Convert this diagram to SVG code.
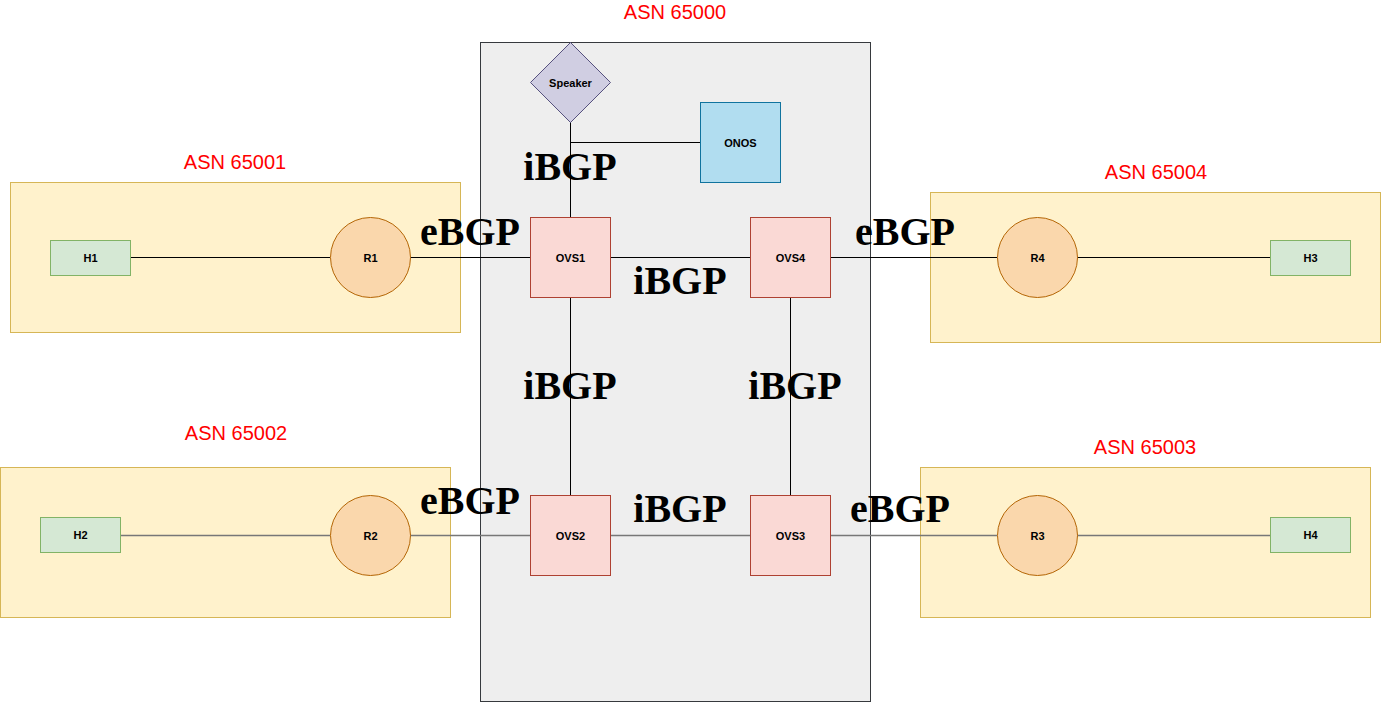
<svg xmlns="http://www.w3.org/2000/svg" width="1381" height="703" viewBox="0 0 1381 703">
<style>
.asn{fill:#fff2cc;stroke:#d6b656;stroke-width:1}
.asnl{font-family:"Liberation Sans",Arial,sans-serif;font-size:20px;fill:#ff0000;text-anchor:middle}
.host{fill:#d5e8d4;stroke:#82b366;stroke-width:1}
.rtr{fill:#fad7ac;stroke:#b46504;stroke-width:1}
.ovs{fill:#fad9d5;stroke:#ae4132;stroke-width:1}
.t{font-family:"Liberation Sans",Arial,sans-serif;font-size:11px;font-weight:bold;fill:#000;text-anchor:middle;dominant-baseline:central}
.bgp{font-family:"Liberation Serif","Times New Roman",serif;font-size:40px;font-weight:bold;fill:#000;text-anchor:middle}
.c1{stroke:#000;stroke-width:1;fill:none}
.c2{stroke:#777;stroke-width:1.3;fill:none}
</style>
<g id="asn65000">
<rect x="480.5" y="42.5" width="390" height="659" fill="#eeeeee" stroke="#36393d" stroke-width="1"/>
<text class="asnl" x="675" y="19">ASN 65000</text>
</g>
<g id="asn65001">
<rect class="asn" x="10.5" y="182.5" width="450" height="150"/>
<text class="asnl" x="235" y="169">ASN 65001</text>
</g>
<g id="asn65002">
<rect class="asn" x="0.5" y="467.5" width="450" height="150"/>
<text class="asnl" x="236" y="440">ASN 65002</text>
</g>
<g id="asn65003">
<rect class="asn" x="920.5" y="467.5" width="450" height="150"/>
<text class="asnl" x="1145" y="454">ASN 65003</text>
</g>
<g id="asn65004">
<rect class="asn" x="930.5" y="192.5" width="450" height="150"/>
<text class="asnl" x="1156" y="179">ASN 65004</text>
</g>
<g id="connectors">
<path class="c1" d="M570.5 122 V217"/>
<path class="c1" d="M570.5 142.5 H700"/>
<path class="c1" d="M130 257.5 H330"/>
<path class="c1" d="M410 257.5 H530"/>
<path class="c1" d="M610 257.5 H750"/>
<path class="c1" d="M830 257.5 H997"/>
<path class="c1" d="M1077 257.5 H1270"/>
<path class="c1" d="M570.5 297 V495"/>
<path class="c1" d="M790.5 297 V495"/>
<path class="c2" d="M120 535.5 H330"/>
<path class="c2" d="M410 535.5 H530"/>
<path class="c2" d="M610 535.5 H750"/>
<path class="c2" d="M830 535.5 H997"/>
<path class="c2" d="M1077 535.5 H1270"/>
</g>
<g id="speaker">
<polygon points="570.5,42.5 610.5,82.5 570.5,122.5 530.5,82.5" fill="#d0cee2" stroke="#56517e" stroke-width="1"/>
<text class="t" x="570.5" y="82.5">Speaker</text>
</g>
<g id="onos">
<rect x="700.5" y="102.5" width="80" height="80" fill="#b1ddf0" stroke="#10739e" stroke-width="1"/>
<text class="t" x="740.5" y="142.5">ONOS</text>
</g>
<g id="h1"><rect class="host" x="50.5" y="240.5" width="80" height="35"/><text class="t" x="90.5" y="258">H1</text></g>
<g id="r1"><circle class="rtr" cx="370.5" cy="257.5" r="40"/><text class="t" x="370.5" y="257.5">R1</text></g>
<g id="ovs1"><rect class="ovs" x="530.5" y="217.5" width="80" height="80"/><text class="t" x="570.5" y="257.5">OVS1</text></g>
<g id="ovs4"><rect class="ovs" x="750.5" y="217.5" width="80" height="80"/><text class="t" x="790.5" y="257.5">OVS4</text></g>
<g id="r4"><circle class="rtr" cx="1037.5" cy="257.5" r="40"/><text class="t" x="1037.5" y="257.5">R4</text></g>
<g id="h3"><rect class="host" x="1270.5" y="240.5" width="80" height="35"/><text class="t" x="1310.5" y="258">H3</text></g>
<g id="h2"><rect class="host" x="40.5" y="517.5" width="80" height="35"/><text class="t" x="80.5" y="535">H2</text></g>
<g id="r2"><circle class="rtr" cx="370.5" cy="535.5" r="40"/><text class="t" x="370.5" y="535.5">R2</text></g>
<g id="ovs2"><rect class="ovs" x="530.5" y="495.5" width="80" height="80"/><text class="t" x="570.5" y="535.5">OVS2</text></g>
<g id="ovs3"><rect class="ovs" x="750.5" y="495.5" width="80" height="80"/><text class="t" x="790.5" y="535.5">OVS3</text></g>
<g id="r3"><circle class="rtr" cx="1037.5" cy="535.5" r="40"/><text class="t" x="1037.5" y="535.5">R3</text></g>
<g id="h4"><rect class="host" x="1270.5" y="517.5" width="80" height="35"/><text class="t" x="1310.5" y="535">H4</text></g>
<g id="labels">
<text class="bgp" x="570" y="180">iBGP</text>
<text class="bgp" x="470" y="245">eBGP</text>
<text class="bgp" x="680" y="294">iBGP</text>
<text class="bgp" x="905" y="245">eBGP</text>
<text class="bgp" x="570" y="399">iBGP</text>
<text class="bgp" x="795" y="399">iBGP</text>
<text class="bgp" x="470" y="514">eBGP</text>
<text class="bgp" x="680" y="522">iBGP</text>
<text class="bgp" x="900" y="522">eBGP</text>
</g>
</svg>
